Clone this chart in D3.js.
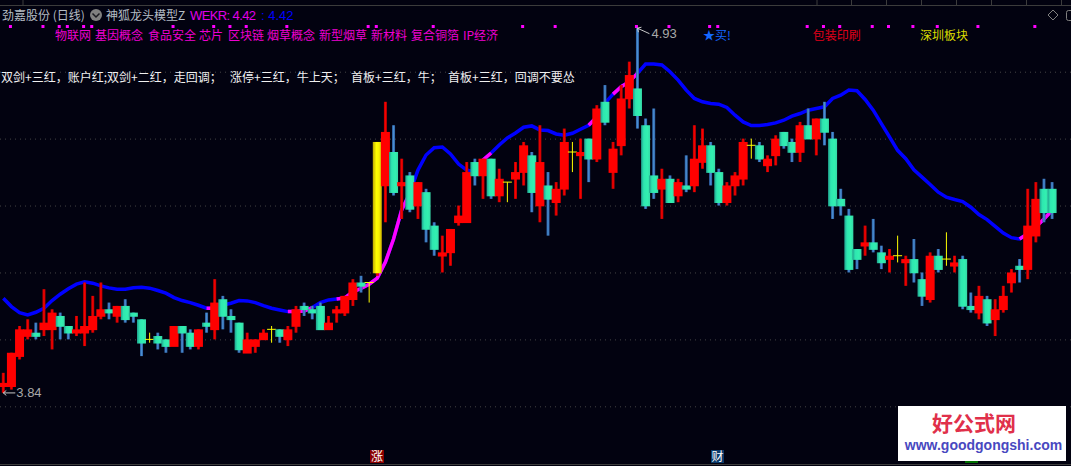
<!DOCTYPE html>
<html>
<head>
<meta charset="utf-8">
<script src="https://cdn.jsdelivr.net/npm/d3@7/dist/d3.min.js"></script>
<style>
html, body { margin: 0; padding: 0; background: #020210; overflow: hidden; }
text { font-family: "Noto Sans CJK SC", sans-serif; }
.num { font-family: "Liberation Sans", Arial, sans-serif; }
</style>
</head>
<body>
<svg id="svg"></svg>
<script>
var mapWidth = 1071, mapHeight = 466;

// candles
var opens = [3.86,3.86,3.95,4.01,4.02,4.03,4.03,4.07,4.04,4.02,4.02,4.03,4.07,4.09,4.07,4.10,4.08,4.06,4.00,4.01,
  4.00,3.98,4.04,4.02,3.98,4.05,4.03,4.12,4.07,4.05,3.96,3.98,4.00,4.03,4.03,4.00,4.04,4.10,4.09,4.10,
  4.03,4.08,4.08,4.12,4.17,4.17,4.20,4.46,4.56,4.46,4.49,4.40,4.44,4.34,4.25,4.26,4.35,4.35,4.53,4.49,
  4.54,4.43,4.47,4.48,4.50,4.55,4.40,4.46,4.41,4.45,4.56,4.55,4.60,4.54,4.71,4.50,4.58,4.72,4.75,4.64,
  4.49,4.45,4.48,4.43,4.46,4.46,4.53,4.58,4.50,4.41,4.46,4.48,4.58,4.58,4.52,4.55,4.62,4.59,4.56,4.64,
  4.60,4.66,4.60,4.42,4.37,4.27,4.28,4.29,4.26,4.24,4.25,4.23,4.24,4.18,4.12,4.25,4.24,4.22,4.24,4.10,
  4.08,4.12,4.06,4.09,4.17,4.22,4.21,4.31,4.45,4.45];
var closes = [3.87,3.96,4.03,4.03,4.01,4.05,4.08,4.04,4.02,4.03,4.04,4.07,4.09,4.08,4.10,4.06,4.07,3.99,4.00,3.99,
  3.98,4.04,4.02,3.98,4.03,4.04,4.11,4.07,4.06,3.97,4.00,4.00,4.02,4.03,4.01,4.03,4.09,4.09,4.08,4.03,
  4.05,4.09,4.13,4.17,4.16,4.17,4.59,4.62,4.44,4.47,4.39,4.47,4.33,4.27,4.26,4.33,4.37,4.50,4.49,4.54,
  4.43,4.48,4.47,4.50,4.58,4.44,4.53,4.42,4.45,4.59,4.56,4.56,4.54,4.69,4.65,4.57,4.72,4.79,4.67,4.40,
  4.44,4.48,4.41,4.47,4.45,4.54,4.58,4.50,4.41,4.46,4.49,4.59,4.58,4.54,4.54,4.60,4.58,4.56,4.64,4.60,
  4.66,4.62,4.40,4.40,4.21,4.24,4.29,4.27,4.23,4.25,4.25,4.24,4.20,4.13,4.25,4.21,4.24,4.23,4.10,4.09,
  4.13,4.05,4.09,4.13,4.20,4.21,4.34,4.42,4.38,4.38];
var highs = [3.90,3.96,4.04,4.06,4.05,4.15,4.09,4.08,4.04,4.07,4.17,4.13,4.17,4.11,4.10,4.12,4.08,4.06,4.02,4.02,
  4.00,4.04,4.04,4.03,4.03,4.08,4.18,4.13,4.09,4.05,4.02,4.00,4.03,4.04,4.03,4.04,4.10,4.11,4.10,4.11,
  4.07,4.10,4.13,4.18,4.19,4.17,4.59,4.71,4.64,4.54,4.50,4.47,4.45,4.35,4.31,4.33,4.40,4.53,4.54,4.54,
  4.54,4.51,4.47,4.53,4.59,4.56,4.64,4.50,4.47,4.63,4.59,4.60,4.60,4.70,4.76,4.59,4.76,4.83,4.93,4.66,
  4.69,4.51,4.49,4.48,4.55,4.64,4.63,4.59,4.51,4.47,4.50,4.60,4.60,4.59,4.55,4.61,4.62,4.60,4.65,4.69,
  4.66,4.71,4.62,4.45,4.39,4.27,4.34,4.36,4.28,4.27,4.31,4.25,4.30,4.20,4.26,4.27,4.32,4.25,4.25,4.14,
  4.16,4.13,4.12,4.16,4.21,4.24,4.45,4.47,4.48,4.47];
var lows = [3.84,3.85,3.94,4.00,4.00,4.01,3.97,4.00,4.00,4.01,3.98,4.02,4.06,4.06,4.05,4.05,4.05,3.95,3.99,3.97,
  3.96,3.98,3.96,3.97,3.97,4.02,4.00,4.03,4.02,3.96,3.96,3.96,4.00,3.99,3.99,3.98,4.02,4.07,4.06,4.03,
  4.03,4.05,4.07,4.10,4.14,4.11,4.19,4.35,4.43,4.36,4.38,4.36,4.29,4.25,4.20,4.22,4.34,4.35,4.46,4.42,
  4.42,4.41,4.41,4.42,4.46,4.38,4.35,4.31,4.37,4.43,4.50,4.42,4.47,4.53,4.64,4.45,4.55,4.69,4.63,4.39,
  4.42,4.36,4.41,4.41,4.44,4.44,4.51,4.46,4.40,4.40,4.43,4.46,4.54,4.53,4.50,4.52,4.57,4.53,4.53,4.60,
  4.55,4.58,4.36,4.37,4.20,4.21,4.25,4.26,4.21,4.20,4.23,4.16,4.17,4.10,4.11,4.20,4.22,4.20,4.09,4.08,
  4.06,4.04,4.01,4.08,4.14,4.17,4.18,4.29,4.35,4.36];

// indicator line, one value per candle
var lineValues = [4.123,4.098,4.08,4.073,4.081,4.093,4.116,4.135,4.151,4.165,4.172,4.168,4.16,4.154,4.15,4.15,4.154,4.156,4.153,4.146,
  4.138,4.125,4.116,4.11,4.102,4.093,4.093,4.103,4.108,4.116,4.115,4.11,4.101,4.093,4.088,4.083,4.083,4.085,4.095,4.11,
  4.118,4.121,4.124,4.142,4.152,4.165,4.183,4.231,4.30,4.387,4.437,4.506,4.551,4.573,4.575,4.554,4.524,4.506,4.50,4.536,
  4.557,4.581,4.602,4.617,4.634,4.638,4.626,4.624,4.614,4.61,4.616,4.628,4.64,4.665,4.706,4.733,4.755,4.77,4.795,4.823,
  4.823,4.82,4.80,4.775,4.745,4.72,4.71,4.705,4.703,4.693,4.67,4.65,4.639,4.639,4.642,4.647,4.655,4.667,4.675,4.685,
  4.69,4.695,4.72,4.73,4.745,4.743,4.717,4.685,4.645,4.605,4.565,4.54,4.507,4.485,4.463,4.44,4.425,4.418,4.412,4.395,
  4.373,4.358,4.338,4.318,4.304,4.30,4.316,4.336,4.36,4.386];
var magentaSpans = [[25,26],[35,38],[41,50],[59,60],[72,73],[75,78],[125,129]];

var limitUpBars = [46];
var topDots = [1,5,7,8,10,11,21,26,28,30,35,45,46,53,64,68,78,82,87,88,99,101,103,107,109,112,115,120,127];
var priceTicks = [3.8,4.0,4.2,4.4,4.6,4.8];
var headerTicks = [23,817,851.5,886.5,921.5,956.5,991.5,1026.5,1061.5];

var sectorNames = ["物联网","基因概念","食品安全","芯片","区块链","烟草概念","新型烟草","新材料","复合铜箔","IP经济"];
var sectorX = [55,95,148,199,228,267,319,371,411,463];
var noteParts = ["双剑+三红，账户红;双剑+二红，走回调；","涨停+三红，牛上天；","首板+三红，牛；","首板+三红，回调不要怂"];
var noteX = [1,230,351,448];

var svg = d3.select("#svg")
  .attr("width", mapWidth)
  .attr("height", mapHeight)
  .style("display", "block");

var x_scale = d3.scaleLinear().domain([0, 129]).range([3.3, 1052.1]);
var y_scale = d3.scaleLinear().domain([3.8, 4.8]).range([406.3, 71.7]);

svg.append("rect").attr("width", mapWidth).attr("height", mapHeight).attr("fill", "#020210");

// gradients for the candle bodies
var defs = svg.append("defs");
function addGradient(id, stops) {
  var g = defs.append("linearGradient").attr("id", id).attr("x1", "0").attr("x2", "1").attr("y1", "0").attr("y2", "0");
  stops.forEach(function(s) { g.append("stop").attr("offset", s[0]).attr("stop-color", s[1]); });
}
addGradient("greenBody", [[0, "#1f9f8c"], [0.3, "#2ee6b0"], [0.7, "#32f0b0"], [1, "#36d8a8"]]);
addGradient("goldBody", [[0, "#bfa800"], [0.4, "#ffff00"], [0.7, "#f8f000"], [1, "#c8b000"]]);
addGradient("redWick", [[0, "#b00000"], [0.5, "#f80000"], [1, "#b00000"]]);
addGradient("blueWick", [[0, "#2a58a0"], [0.5, "#4a90d0"], [1, "#2a58a0"]]);

// header strip
svg.append("line").attr("x1", 0).attr("x2", mapWidth).attr("y1", 5.5).attr("y2", 5.5).attr("stroke", "#3c3c3c");
svg.selectAll(".htick").data(headerTicks).enter().append("line")
  .attr("x1", function(d) { return d; }).attr("x2", function(d) { return d; })
  .attr("y1", 0).attr("y2", 5).attr("stroke", "#3c3c3c");
svg.append("line").attr("x1", 0).attr("x2", mapWidth).attr("y1", 464.5).attr("y2", 464.5).attr("stroke", "#3c3c3c");

// dotted price grid
var gridAxis = d3.axisLeft(y_scale).tickValues(priceTicks).tickSize(-mapWidth).tickFormat("");
var grid = svg.append("g").call(gridAxis);
grid.select(".domain").remove();
grid.selectAll("line").attr("stroke", "#444444").attr("stroke-dasharray", "1,4");

// indicator line, blue with magenta stretches
var lineFunction = d3.line()
  .x(function(i) { return x_scale(i); })
  .y(function(i) { return y_scale(lineValues[i]); });

svg.append("path")
  .attr("d", lineFunction(d3.range(lineValues.length)))
  .attr("stroke", "#0000ff").attr("stroke-width", 3.5).attr("fill", "none");
svg.selectAll(".magenta").data(magentaSpans).enter().append("path")
  .attr("d", function(s) { return lineFunction(d3.range(s[0], s[1] + 1)); })
  .attr("stroke", "#ff00ff").attr("stroke-width", 3.5).attr("fill", "none");

// candles, left to right so later bodies overlap earlier ones
var bodyWidth = 9, wickWidth = 3;
opens.forEach(function(o, i) {
  var c = closes[i], cx = x_scale(i);
  var g = svg.append("g");
  if (o === c) {
    g.append("line").attr("x1", cx).attr("x2", cx).attr("y1", y_scale(highs[i])).attr("y2", y_scale(lows[i]))
      .attr("stroke", "#ffff00");
    g.append("line").attr("x1", cx - bodyWidth / 2).attr("x2", cx + bodyWidth / 2).attr("y1", y_scale(o)).attr("y2", y_scale(o))
      .attr("stroke", "#ffff00");
    return;
  }
  var up = c > o;
  g.append("rect")
    .attr("x", cx - wickWidth / 2).attr("width", wickWidth)
    .attr("y", y_scale(highs[i])).attr("height", y_scale(lows[i]) - y_scale(highs[i]))
    .attr("fill", up ? "url(#redWick)" : "url(#blueWick)");
  var top = y_scale(Math.max(o, c)), bottom = y_scale(Math.min(o, c));
  var fill = up ? "#ff0000" : "url(#greenBody)";
  if (limitUpBars.indexOf(i) >= 0) fill = "url(#goldBody)";
  g.append("rect")
    .attr("x", cx - bodyWidth / 2).attr("width", bodyWidth)
    .attr("y", top).attr("height", bottom - top + 0.8)
    .attr("fill", fill);
});

// small magenta markers along the top
svg.selectAll(".dot").data(topDots).enter().append("rect")
  .attr("x", function(i) { return x_scale(i) - 2.5; })
  .attr("y", 25).attr("width", 3).attr("height", 3)
  .attr("fill", "#ff00ff");

// title row
function label(x, y, str, color, size, cls) {
  return svg.append("text").attr("x", x).attr("y", y).text(str)
    .attr("fill", color).attr("font-size", size || 12).attr("class", cls || null);
}
label(2, 19.5, "劲嘉股份 (日线)", "#b4bcc4", 12);
svg.append("circle").attr("cx", 96).attr("cy", 15).attr("r", 6).attr("fill", "#808080");
svg.append("path").attr("d", "M92.5,13.5L96,17L99.5,13.5").attr("fill", "none").attr("stroke", "#1a1a20").attr("stroke-width", 1.5);
label(106, 19.5, "神狐龙头模型Z", "#b4bcc4", 12);
label(190, 19.5, "WEKR: 4.42", "#e000e8", 13, "num").attr("textLength", 66);
label(261, 19.5, ": 4.42", "#0000ff", 13, "num");

// sector tags
sectorNames.forEach(function(name, i) {
  label(sectorX[i], 39.5, name, "#ee00d0", 12);
});
label(703, 39.5, "★买!", "#1468ff", 12);
label(812.7, 39.5, "包装印刷", "#e00018", 12);
label(920, 39.5, "深圳板块", "#dcdc00", 12);

noteParts.forEach(function(part, i) {
  label(noteX[i], 81.5, part, "#f0f0f0", 12);
});

// high / low annotations, anchored on the extreme candles
var lowX = x_scale(0), lowY = y_scale(3.84);
svg.append("path").attr("d", "M" + lowX + "," + lowY + "H" + (lowX + 12) + "M" + (lowX + 3) + "," + (lowY - 2.5) + "L" + lowX + "," + lowY + "L" + (lowX + 3) + "," + (lowY + 2.5))
  .attr("stroke", "#c8c8c8").attr("fill", "none");
label(lowX + 13, lowY + 4.5, "3.84", "#a8a8a8", 13, "num");

var highX = x_scale(78), highY = y_scale(4.93);
svg.append("path").attr("d", "M" + highX + "," + highY + "L" + (highX + 12) + "," + (highY + 5.5) + "M" + highX + "," + highY + "l4,-1M" + highX + "," + highY + "l1,4")
  .attr("stroke", "#c8c8c8").attr("fill", "none");
label(highX + 14, highY + 9.5, "4.93", "#a8a8a8", 13, "num");

// toolbar glyphs, top right
svg.append("path").attr("d", "M1053,10L1058,15L1053,20L1048,15Z").attr("fill", "none").attr("stroke", "#808080");
svg.append("rect").attr("x", 1066.5).attr("y", 10.5).attr("width", 12).attr("height", 10).attr("rx", 2).attr("fill", "none").attr("stroke", "#808080");

// event badges along the bottom
svg.append("rect").attr("x", 370).attr("y", 450).attr("width", 14).attr("height", 13).attr("fill", "#8a0000");
label(371, 461, "涨", "#ffffff", 12);
svg.append("rect").attr("x", 711).attr("y", 450).attr("width", 13).attr("height", 13).attr("fill", "#0a3a6a");
label(711.5, 461, "财", "#ffffff", 12);
svg.append("rect").attr("x", 965).attr("y", 455).attr("width", 13).attr("height", 8).attr("fill", "#007000");

// watermark
svg.append("rect").attr("x", 898).attr("y", 406).attr("width", 168).attr("height", 55).attr("fill", "#ffffff");
label(932, 431, "好公式网", "#e0304a", 21).attr("font-weight", "bold");
svg.append("text").attr("x", 983.5).attr("y", 449.5).text("www.goodgongshi.com")
  .attr("text-anchor", "middle").attr("fill", "#4848c0").attr("font-size", 14).attr("font-weight", "bold")
  .style("font-family", "'Liberation Sans', sans-serif");
</script>
</body>
</html>
